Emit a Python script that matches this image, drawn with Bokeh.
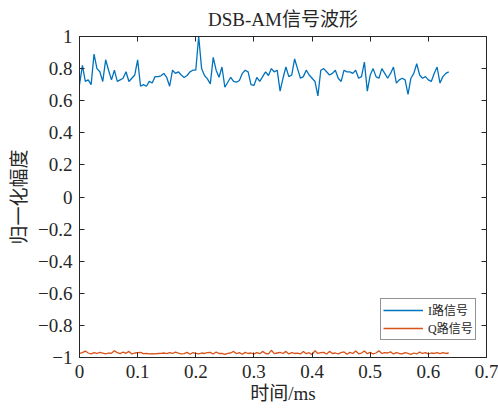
from bokeh.plotting import figure
from bokeh.models import LinearAxis, FixedTicker, CustomJSTickFormatter, Legend, LegendItem, Range1d
from bokeh.embed import file_html
from bokeh.resources import INLINE

# time axis (ms), sample step 0.005 ms, 128 samples
t_step = 0.005
n_samples = 128
t = [round(i * t_step, 3) for i in range(n_samples)]

i_signal = [
    0.70, 0.82, 0.72, 0.73, 0.70, 0.89, 0.80, 0.78, 0.72, 0.855,
    0.79, 0.73, 0.79, 0.72, 0.73, 0.74, 0.78, 0.72, 0.74, 0.76,
    0.855, 0.69, 0.70, 0.69, 0.72, 0.71, 0.75, 0.75, 0.755, 0.77,
    0.745, 0.69, 0.79, 0.77, 0.78, 0.76, 0.745, 0.757, 0.78, 0.79,
    0.79, 1.00, 0.80, 0.757, 0.736, 0.705, 0.87, 0.79, 0.746, 0.81,
    0.684, 0.715, 0.746, 0.72, 0.715, 0.726, 0.77, 0.79, 0.78, 0.70,
    0.695, 0.745, 0.72, 0.75, 0.78, 0.757, 0.80, 0.78, 0.79, 0.66,
    0.74, 0.81, 0.75, 0.76, 0.86, 0.80, 0.74, 0.75, 0.79, 0.76,
    0.74, 0.72, 0.63, 0.79, 0.80, 0.78, 0.76, 0.77, 0.79, 0.74,
    0.72, 0.79, 0.78, 0.78, 0.77, 0.79, 0.74, 0.75, 0.84, 0.66,
    0.76, 0.80, 0.75, 0.74, 0.80, 0.77, 0.74, 0.77, 0.81, 0.71,
    0.73, 0.74, 0.73, 0.64, 0.74, 0.77, 0.83, 0.76, 0.74, 0.75,
    0.73, 0.72, 0.77, 0.81, 0.71, 0.75, 0.77, 0.78,
]

q_signal = [
    -0.975, -0.970, -0.960, -0.972, -0.978, -0.970, -0.975, -0.968, -0.973, -0.978,
    -0.972, -0.974, -0.958, -0.970, -0.976, -0.966, -0.974, -0.962, -0.978, -0.972,
    -0.970, -0.968, -0.976, -0.975, -0.978, -0.976, -0.977, -0.975, -0.974, -0.972,
    -0.976, -0.970, -0.975, -0.967, -0.973, -0.978, -0.976, -0.968, -0.980, -0.970,
    -0.974, -0.978, -0.972, -0.975, -0.970, -0.968, -0.978, -0.966, -0.975, -0.974,
    -0.980, -0.974, -0.972, -0.962, -0.976, -0.970, -0.980, -0.968, -0.975, -0.972,
    -0.978, -0.970, -0.976, -0.962, -0.975, -0.978, -0.955, -0.976, -0.972, -0.968,
    -0.975, -0.962, -0.978, -0.970, -0.975, -0.973, -0.978, -0.962, -0.976, -0.970,
    -0.982, -0.958, -0.975, -0.970, -0.968, -0.978, -0.962, -0.975, -0.972, -0.978,
    -0.970, -0.965, -0.980, -0.968, -0.975, -0.960, -0.977, -0.972, -0.960, -0.976,
    -0.968, -0.978, -0.972, -0.958, -0.975, -0.970, -0.972, -0.965, -0.978, -0.970,
    -0.975, -0.978, -0.970, -0.975, -0.980, -0.972, -0.978, -0.966, -0.975, -0.970,
    -0.978, -0.972, -0.975, -0.969, -0.976, -0.970, -0.975, -0.972,
]

x_ticks = [0, 0.1, 0.2, 0.3, 0.4, 0.5, 0.6, 0.7]
y_ticks = [-1, -0.8, -0.6, -0.4, -0.2, 0, 0.2, 0.4, 0.6, 0.8, 1]

title_text = "DSB-AM信号波形"
x_label = "时间/ms"
y_label = "归一化幅度"
series_names = ["I路信号", "Q路信号"]
series_colors = ["#0072BD", "#D95319"]

FONT = "Liberation Serif, Noto Sans CJK SC"
TXT = "#262626"

p = figure(width=498, height=409, output_backend="svg", toolbar_location=None,
           x_range=Range1d(0, 0.7), y_range=Range1d(-1, 1),
           min_border_left=79, min_border_right=12, min_border_top=36, min_border_bottom=52)
p.background_fill_color = "white"
p.border_fill_color = "white"
p.outline_line_color = "#262626"
p.xgrid.visible = False
p.ygrid.visible = False

p.title.text = title_text
p.title.align = "center"
p.title.text_font = FONT
p.title.text_font_size = "19px"
p.title.text_font_style = "normal"
p.title.text_color = TXT
p.title.standoff = 13

fmt_code = """
var s = Math.abs(tick).toFixed(1).replace(/\\.0$/, '');
if (Math.abs(tick) < 1e-9) return '0';
return (tick < 0 ? '\\u2212' : '') + s;
"""

def style_axis(ax, ticks, show_labels):
    ax.ticker = FixedTicker(ticks=ticks)
    ax.formatter = CustomJSTickFormatter(code=fmt_code)
    ax.major_tick_in = 5
    ax.major_tick_out = 0
    ax.minor_tick_line_color = None
    ax.axis_line_color = "#262626"
    ax.major_tick_line_color = "#262626"
    ax.major_label_text_font = FONT
    ax.axis_label_text_font = FONT
    ax.axis_label_text_color = TXT
    ax.axis_label_text_font_style = "normal"
    ax.major_label_text_font_size = "19px"
    if show_labels:
        ax.major_label_text_color = TXT
    else:
        ax.major_label_text_color = None
        ax.major_label_standoff = 0

style_axis(p.xaxis[0], x_ticks, True)
style_axis(p.yaxis[0], y_ticks, True)
p.xaxis[0].axis_label = x_label
p.xaxis[0].axis_label_text_font_size = "19px"
p.xaxis[0].major_label_standoff = 7
p.xaxis[0].axis_label_standoff = 2
p.yaxis[0].axis_label = y_label
p.yaxis[0].axis_label_text_font_size = "19px"
p.yaxis[0].major_label_standoff = 7
p.yaxis[0].axis_label_standoff = 5

top_ax = LinearAxis()
style_axis(top_ax, x_ticks, False)
top_ax.major_label_text_font_size = "1px"
p.add_layout(top_ax, "above")
right_ax = LinearAxis()
style_axis(right_ax, y_ticks, False)
right_ax.major_label_text_font_size = "1px"
p.add_layout(right_ax, "right")

r1 = p.line(t, i_signal, line_color=series_colors[0], line_width=1.3)
r2 = p.line(t, q_signal, line_color=series_colors[1], line_width=1.3)

legend = Legend(items=[LegendItem(label=series_names[0], renderers=[r1]),
                       LegendItem(label=series_names[1], renderers=[r2])],
                location=(301, 17))
legend.label_text_font = FONT
legend.label_text_font_size = "12px"
legend.label_text_color = TXT
legend.glyph_width = 40
legend.glyph_height = 12
legend.label_height = 12
legend.spacing = 0
legend.padding = 2
legend.margin = 0
legend.label_standoff = 5
legend.border_line_color = "#262626"
legend.border_line_width = 1
legend.background_fill_color = "white"
p.add_layout(legend, "center")

open("out.html", "w").write(file_html(p, INLINE))
